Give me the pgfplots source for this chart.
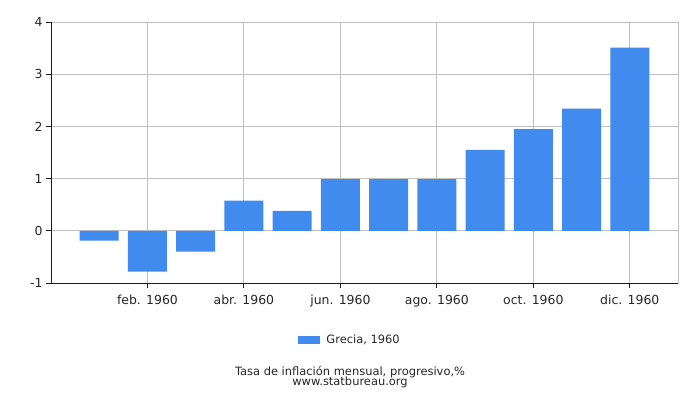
\documentclass[border=0pt]{standalone}
\usepackage{pgfplots}
\pgfplotsset{compat=1.18}
\usepackage{fontspec}
\setmainfont{DejaVu Sans}
\definecolor{barc}{RGB}{65,139,238}
\definecolor{gridc}{RGB}{192,192,192}
\definecolor{axc}{RGB}{30,30,30}

\pgfplotstableread{
m val
0 -0.19
1 -0.78
2 -0.40
3 0.58
4 0.38
5 0.99
6 0.99
7 0.99
8 1.55
9 1.95
10 2.34
11 3.51
}\greece

\begin{document}
\begin{tikzpicture}[x=1bp,y=1bp]
\path[use as bounding box] (0,0) rectangle (700,400);
\begin{axis}[
    at={(51bp,117bp)}, anchor=south west,
    width=627bp, height=261bp, scale only axis,
    xmin=-1, xmax=12, ymin=-1, ymax=4,
    axis x line*=bottom, axis y line*=left,
    axis line style={axc, line width=0.9bp},
    xtick={1,3,5,7,9,11},
    xticklabels={feb. 1960, abr. 1960, jun. 1960, ago. 1960, oct. 1960, dic. 1960},
    ytick={-1,0,1,2,3,4},
    extra x ticks={12}, extra x tick labels={},
    extra x tick style={major tick length=0pt},
    grid=major,
    major grid style={gridc, line width=0.9bp},
    tick style={axc, line width=0.9bp},
    tick align=outside, major tick length=5bp,
    /pgf/number format/assume math mode=true,
    ticklabel style={font=\fontsize{12.5}{14}\selectfont, text=black!85},
    xticklabel style={yshift=-4bp},
    ybar, bar width=39bp,
    legend style={at={(0.477,-0.218)}, anchor=center, draw=none,
        font=\fontsize{11.5}{13}\selectfont, text=black!85},
    legend image code/.code={\fill[barc] (0bp,-4.2bp) rectangle (22bp,4.2bp);
        \path (0bp,0bp) -- (26bp,0bp);},
]
\addplot[fill=barc, draw=none] table[x=m, y=val] {\greece};
\addlegendentry{Grecia, 1960}
\end{axis}
\node[anchor=base, inner sep=0pt, font=\fontsize{11.5}{12}\selectfont, text=black!85] at (350,25) {Tasa de inflación mensual, progresivo,\%};
\node[anchor=base, inner sep=0pt, font=\fontsize{11.5}{12}\selectfont, text=black!85] at (350,15) {www.statbureau.org};
\end{tikzpicture}
\end{document}
